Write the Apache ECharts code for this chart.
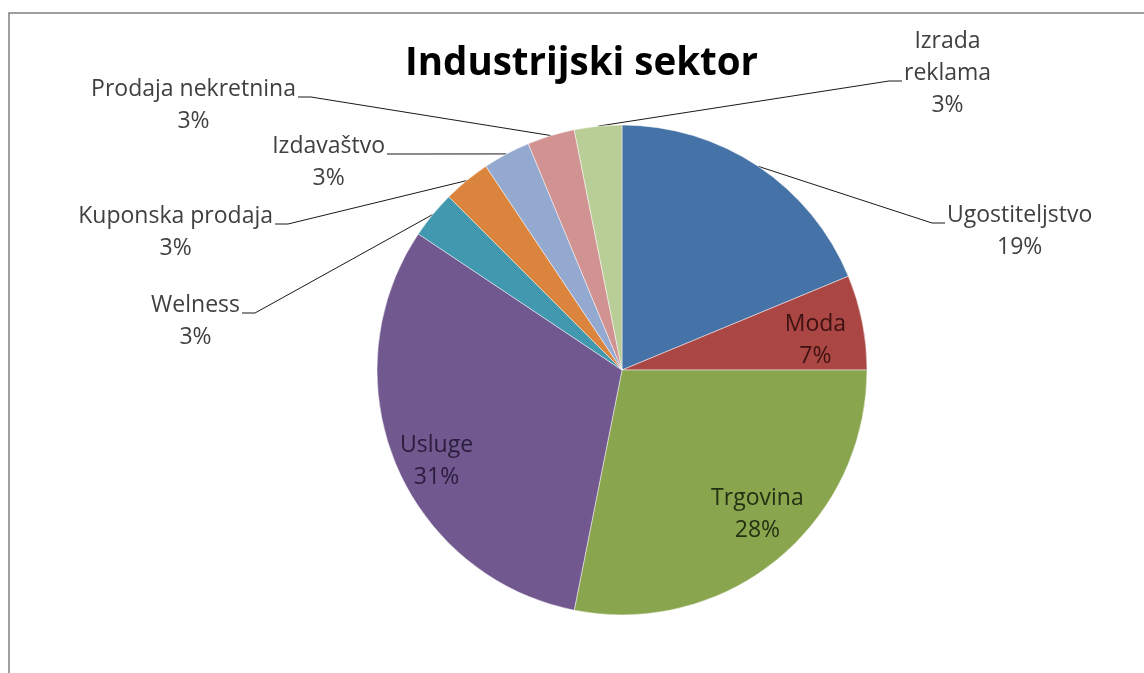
<!DOCTYPE html>
<html>
<head>
<meta charset="utf-8">
<script src="https://cdn.jsdelivr.net/npm/echarts@6/dist/echarts.min.js"></script>
<style>
  html, body { margin: 0; padding: 0; background: #fff; }
  #chart { width: 1144px; height: 673px; }
</style>
</head>
<body>
<div id="chart"></div>
<script>
// ---- data ----
const categories = ['Ugostiteljstvo', 'Moda', 'Trgovina', 'Usluge', 'Welness', 'Kuponska prodaja', 'Izdavaštvo', 'Prodaja nekretnina', 'Izrada reklama'];
const values = [6, 2, 9, 10, 1, 1, 1, 1, 1];
const titleText = 'Industrijski sektor';

// ---- styles / layout ----
const colors = ['#4572A7', '#AA4643', '#89A54E', '#71588F', '#4198AF', '#DB843D', '#93A9CF', '#D19392', '#B9CD96'];
const innerLabelColors = { 'Moda': '#3d1211', 'Trgovina': '#243013', 'Usluge': '#2a1c3d' };
const innerRadiusScale = { 'Moda': 1.62, 'Trgovina': 1.6, 'Usluge': 1.66 };
const innerLabelNudge = { 'Moda': [-6, 10], 'Trgovina': [8, -11], 'Usluge': [7, 12] };
const labelBreaks = { 'Izrada reklama': 'Izrada\nreklama' };
// where each leader line ends (text starts), and side of the pie
const outerAnchors = {
  'Ugostiteljstvo':     { x: 945, y: 223, side: 'right' },
  'Izrada reklama':     { x: 902, y: 81,  side: 'right' },
  'Prodaja nekretnina': { x: 298, y: 97,  side: 'left' },
  'Izdavaštvo':         { x: 387, y: 154, side: 'left' },
  'Kuponska prodaja':   { x: 275, y: 224, side: 'left' },
  'Welness':            { x: 242, y: 313, side: 'left' }
};
const CX = 622, CY = 370, R = 245;
const LINE_H = 32;
const FONT = '"Open Sans", "Noto Sans", sans-serif';

const total = values.reduce((a, b) => a + b, 0);
const cum = [];
values.reduce((acc, v, i) => { cum[i] = acc; return acc + v; }, 0);

const chart = echarts.init(document.getElementById('chart'), null, { renderer: 'canvas' });

const seriesData = categories.map((name, i) => {
  const inner = !outerAnchors[name];
  return {
    name: name,
    value: values[i],
    itemStyle: { color: colors[i] },
    label: inner
      ? { position: 'inside', rich: { n: { color: innerLabelColors[name] }, p: { color: innerLabelColors[name] } } }
      : { position: 'outside' },
    labelLine: { show: !inner }
  };
});

const richBase = { fontFamily: FONT, fontSize: 23, lineHeight: LINE_H, align: 'center', color: '#404040' };

chart.setOption({
  backgroundColor: '#ffffff',
  animation: false,
  title: {
    text: titleText,
    left: 400,
    top: 40,
    textStyle: { fontFamily: FONT, fontWeight: 'bold', fontSize: 38.5, color: '#000000' }
  },
  graphic: [{
    type: 'rect',
    shape: { x: 9, y: 13, width: 1200, height: 720 },
    style: { fill: 'none', stroke: '#808080', lineWidth: 1.5 },
    silent: true
  }],
  series: [{
    type: 'pie',
    center: [CX, CY],
    radius: R,
    startAngle: 90,
    clockwise: true,
    avoidLabelOverlap: false,
    percentPrecision: 0,
    itemStyle: { borderColor: 'rgba(255,255,255,0.6)', borderWidth: 0.8 },
    label: {
      formatter: p => '{n|' + (labelBreaks[p.name] || p.name) + '}\n{p|' + p.percent + '%}',
      rich: { n: Object.assign({}, richBase), p: Object.assign({}, richBase) }
    },
    labelLine: { lineStyle: { color: '#1a1a1a', width: 1 } },
    labelLayout: function (p) {
      const i = p.dataIndex;
      const name = categories[i];
      const a = outerAnchors[name];
      if (!a) {
        const lr = p.labelRect;
        const lx = lr.x + lr.width / 2, ly = lr.y + lr.height / 2;
        const s = innerRadiusScale[name] || 1.6;
        const nd = innerLabelNudge[name] || [0, 0];
        return { x: CX + (lx - CX) * s + nd[0], y: CY + (ly - CY) * s + nd[1], align: 'center', verticalAlign: 'middle' };
      }
      const f = (cum[i] + values[i] / 2) / total;
      const th = f * Math.PI * 2;
      const edge = [CX + R * Math.sin(th), CY - R * Math.cos(th)];
      const dir = a.side === 'left' ? 1 : -1;
      const bend = [a.x + dir * 13, a.y];
      const nameLines = (labelBreaks[name] || name).split('\n').length;
      return {
        x: a.side === 'left' ? a.x - 2 : a.x + 2,
        y: a.y - 24 - LINE_H * (nameLines - 1),
        align: a.side === 'left' ? 'right' : 'left',
        verticalAlign: 'top',
        labelLinePoints: [edge, bend, [a.x, a.y]]
      };
    },
    data: seriesData
  }]
});
</script>
</body>
</html>
